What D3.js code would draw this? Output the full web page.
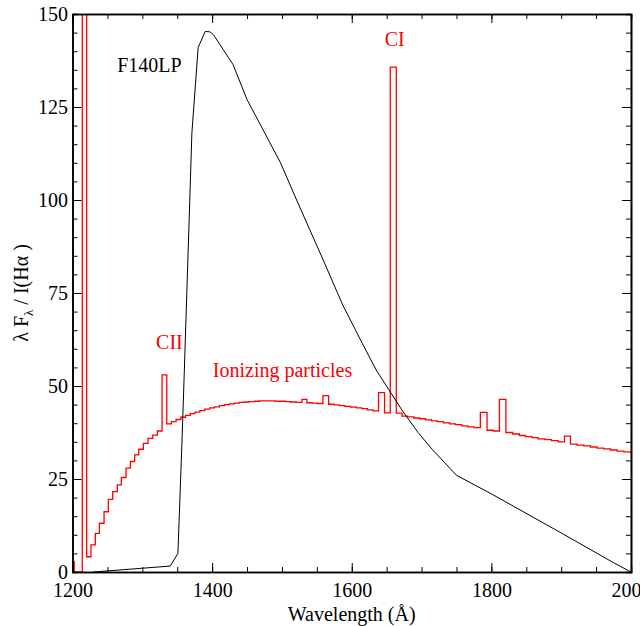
<!DOCTYPE html>
<html>
<head>
<meta charset="utf-8">
<script src="https://cdn.jsdelivr.net/npm/d3@7"></script>
<style>
    body { margin: 0; background: #fff; }
    svg { display: block; font-family: "Liberation Serif", "Times New Roman", serif; }
</style>
</head>
<body>
<svg class="spectrum" width="640" height="626"></svg>
<script>
const xTicks = [1200, 1400, 1600, 1800, 2000];
const yTicks = [0, 25, 50, 75, 100, 125, 150];

// F140LP filter curve (black)
const filterWave = [1230, 1340, 1351, 1357, 1360, 1368, 1371, 1380, 1390, 1397, 1402, 1430, 1450, 1498,
    1521, 1560, 1587, 1615, 1635, 1672, 1695, 1715, 1750, 1800, 1900, 1975, 2000];
const filterFlux = [0, 1.6, 5, 36, 53, 100, 118, 141, 145.3, 145.2, 144.4, 136.4, 127, 110,
    100, 83.5, 71.8, 61.5, 54.3, 43.5, 37.5, 33, 26, 21, 10.5, 2.5, 0];

// ionizing particles spectrum (red), left edge of each bin and its value
const binStart = [1196, 1202.5, 1214, 1220.3, 1226.5, 1232.7, 1238.5, 1245.2, 1251.4, 1257.6, 1264.3,
    1270.0, 1276.7, 1282.9, 1289.1, 1294.9, 1301.5, 1308.2, 1314.9, 1321.6, 1328.3, 1335.0, 1341.7,
    1348.4, 1355.1, 1361.9, 1368.7, 1375.6, 1382.5, 1389.4, 1396.4, 1403.4, 1410.4, 1417.5, 1424.6,
    1431.7, 1438.9, 1446.1, 1453.3, 1460.6, 1467.9, 1475.2, 1482.6, 1490.0, 1497.5, 1505.0, 1512.5,
    1520.5, 1528.6, 1535.8, 1543.4, 1551.0, 1558.7, 1566.8, 1574.6, 1582.5, 1590.4, 1598.4, 1606.4,
    1614.4, 1622.4, 1630.4, 1638.4, 1647.0, 1655.2, 1663.8, 1672.0, 1680.4, 1688.8, 1697.2, 1705.7,
    1714.2, 1722.8, 1731.4, 1740.1, 1748.8, 1757.5, 1766.3, 1775.2, 1784.2, 1793.8, 1802.6, 1811.5,
    1820.8, 1830.6, 1840.1, 1848.7, 1858.3, 1866.9, 1876.5, 1886.0, 1895.6, 1904.7, 1913.3, 1922.8,
    1932.4, 1942.0, 1951.5, 1961.1, 1970.6, 1980.2, 1989.7, 1999.3];
const binValue = [2.8, 0, 400, 4.1, 7.3, 10.4, 13.1, 16.2, 19.5, 21.6, 23.4,
    25.4, 27.9, 29.7, 31.5, 33.0, 34.6, 35.9, 36.8, 37.9, 53.0, 39.8, 40.4,
    41.0, 41.6, 42.1, 42.6, 43.0, 43.4, 43.8, 44.1, 44.4, 44.7, 45.0, 45.2,
    45.4, 45.6, 45.7, 45.8, 45.9, 46.0, 46.0, 46.0, 45.9, 45.9, 45.8, 45.7,
    45.6, 46.4, 45.5, 45.4, 45.3, 47.4, 45.1, 44.9, 44.7, 44.5, 44.3, 44.1,
    43.9, 43.6, 43.3, 48.2, 42.8, 135.7, 42.7, 41.9, 41.7, 41.4, 41.2, 40.9,
    40.6, 40.4, 40.1, 39.8, 39.6, 39.3, 39.0, 38.8, 42.9, 38.1, 37.9, 46.4,
    37.5, 37.1, 36.7, 36.4, 36.1, 35.8, 35.6, 35.3, 35.0, 36.5, 34.4, 34.1,
    33.9, 33.6, 33.3, 33.1, 32.8, 32.5, 32.3, 32.1];
const binEnd = 2009;

const svg = d3.select('.spectrum');
const width = +svg.attr('width');
const height = +svg.attr('height');

const margin = { top: 14, right: 9, bottom: 54, left: 72.5 };
const innerWidth = width - margin.left - margin.right;
const innerHeight = height - margin.top - margin.bottom;

const serif = '"Liberation Serif", "Times New Roman", serif';

const xScale = d3.scaleLinear().domain([1200, 2000]).range([0, innerWidth]);
const yScale = d3.scaleLinear().domain([0, 150]).range([innerHeight, 0]);

const g = svg.append('g')
    .attr('transform', `translate(${margin.left}, ${margin.top})`);

g.append('clipPath').attr('id', 'plotArea')
    .append('rect').attr('width', innerWidth).attr('height', innerHeight);

// red histogram
const redPts = binStart.map((s, i) => [s, binValue[i]]);
redPts.push([binEnd, binValue[binValue.length - 1]]);

g.append('path')
    .attr('clip-path', 'url(#plotArea)')
    .attr('d', d3.line().curve(d3.curveStepAfter)
        .x(d => xScale(d[0])).y(d => yScale(d[1]))(redPts))
    .attr('fill', 'none')
    .attr('stroke', '#ff0000')
    .attr('stroke-width', 1.3);

// black filter curve
g.append('path')
    .attr('clip-path', 'url(#plotArea)')
    .attr('d', d3.line()
        .x((d, i) => xScale(filterWave[i])).y(d => yScale(d))(filterFlux))
    .attr('fill', 'none')
    .attr('stroke', '#000')
    .attr('stroke-width', 1);

// axes, ticks point inward on all four sides
const styleAxis = sel => {
    sel.attr('font-family', serif).attr('font-size', 20);
    sel.selectAll('.domain').attr('stroke-width', 1.6);
    sel.selectAll('.tick line').attr('stroke-width', 1);
    sel.selectAll('text').attr('fill', '#000');
};

g.append('g').attr('transform', `translate(0, ${innerHeight})`)
    .call(d3.axisBottom(xScale).tickValues(xTicks).tickSizeInner(-9).tickSizeOuter(0).tickPadding(11).tickFormat(d3.format('d')))
    .call(styleAxis);
g.append('g').attr('transform', `translate(0, ${innerHeight})`)
    .call(d3.axisBottom(xScale).tickValues(xScale.ticks(16)).tickSize(-5).tickFormat(''))
    .call(styleAxis);
g.append('g')
    .call(d3.axisTop(xScale).tickValues(xTicks).tickSizeInner(-9).tickSizeOuter(0).tickFormat(''))
    .call(styleAxis);
g.append('g')
    .call(d3.axisTop(xScale).tickValues(xScale.ticks(16)).tickSize(-5).tickFormat(''))
    .call(styleAxis);

g.append('g')
    .call(d3.axisLeft(yScale).tickValues(yTicks).tickSizeInner(-9).tickSizeOuter(0).tickPadding(4.5))
    .call(styleAxis);
g.append('g')
    .call(d3.axisLeft(yScale).tickValues(yScale.ticks(30)).tickSize(-5).tickFormat(''))
    .call(styleAxis);
g.append('g').attr('transform', `translate(${innerWidth}, 0)`)
    .call(d3.axisRight(yScale).tickValues(yTicks).tickSizeInner(-9).tickSizeOuter(0).tickFormat(''))
    .call(styleAxis);
g.append('g').attr('transform', `translate(${innerWidth}, 0)`)
    .call(d3.axisRight(yScale).tickValues(yScale.ticks(30)).tickSize(-5).tickFormat(''))
    .call(styleAxis);

// annotations
g.append('text')
    .attr('x', xScale(1264)).attr('y', yScale(134.5))
    .style('font-size', '20px').attr('fill', '#000')
    .text('F140LP');

g.append('text')
    .attr('x', xScale(1661.5)).attr('y', yScale(141.4))
    .attr('text-anchor', 'middle')
    .style('font-size', '20px').attr('fill', '#ff0000')
    .text('CI');

g.append('text')
    .attr('x', xScale(1338.8)).attr('y', yScale(60))
    .attr('text-anchor', 'middle')
    .style('font-size', '20px').attr('fill', '#ff0000')
    .text('CII');

g.append('text')
    .attr('x', xScale(1401)).attr('y', yScale(52.3))
    .style('font-size', '20px').attr('fill', '#ff0000')
    .text('Ionizing particles');

// axis titles
svg.append('text')
    .attr('x', margin.left + innerWidth / 2).attr('y', 621)
    .attr('text-anchor', 'middle')
    .style('font-size', '20px')
    .text('Wavelength (Å)');

const yLabel = svg.append('text')
    .attr('transform', `translate(28, ${margin.top + innerHeight / 2}) rotate(-90)`)
    .attr('text-anchor', 'middle')
    .style('font-size', '20px');
yLabel.append('tspan').text('λ F');
yLabel.append('tspan').attr('dy', 5).style('font-size', '13px').text('λ');
yLabel.append('tspan').attr('dy', -5).text(' / I(Hα )');
</script>
</body>
</html>
